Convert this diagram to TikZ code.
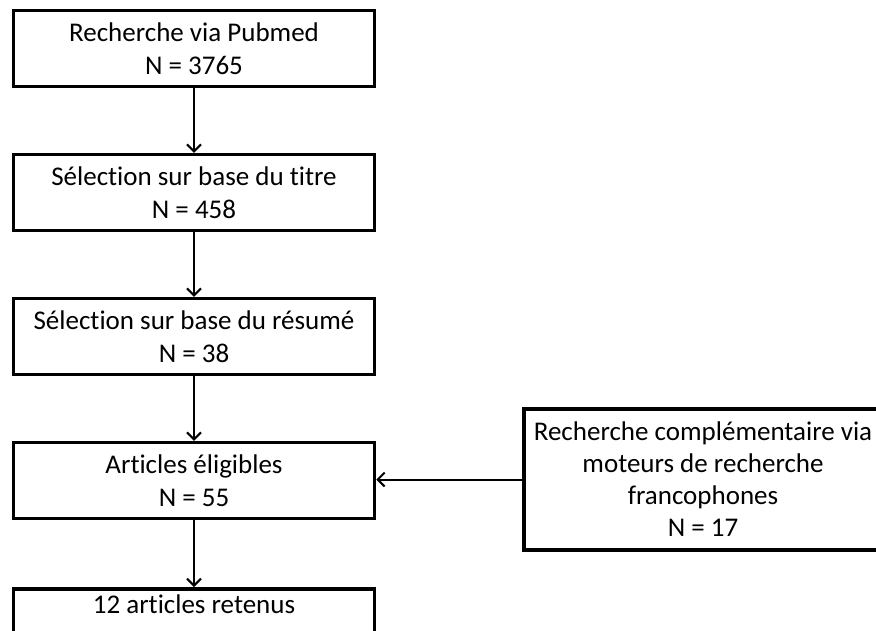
\documentclass[tikz,border=0pt]{standalone}
\usepackage{fontspec}
\setmainfont[Ligatures=NoCommon]{Carlito}
\usetikzlibrary{arrows.meta}

\begin{document}
\begin{tikzpicture}[x=1pt, y=-1pt,
	box/.style={draw, line width=3.5pt, align=center, inner sep=0pt,
		minimum width=361pt, minimum height=76pt, font=\fontsize{27}{33}\selectfont},
	flow/.style={line width=2pt, -{Straight Barb[length=7pt, width=14pt, line width=2pt]}}]

	\def\Xleft{194}
	\def\Xright{703}
	\def\dy{144}

	\useasboundingbox (0,0) rectangle (876,630);
	\clip (0,0) rectangle (876,630);

	% Main column
	\node[box] (pubmed) at (\Xleft, 48.5) {Recherche via Pubmed\\N = 3765};
	\node[box] (titre) at (\Xleft, 48.5 + \dy) {Sélection sur base du titre\\N = 458};
	\node[box] (resume) at (\Xleft, 48.5 + 2*\dy) {Sélection sur base du résumé\\N = 38};
	\node[box] (eligible) at (\Xleft, 48.5 + 3*\dy) {Articles éligibles\\N = 55};
	% last box runs past the bottom edge
	\node[box, anchor=north, minimum height=0pt, inner ysep=6pt, text depth=40pt]
		(retenus) at (\Xleft, 587) {12 articles retenus};

	% Extra search
	\node[box, minimum width=358pt, minimum height=141pt, font=\fontsize{27}{32}\selectfont]
		(extra) at (\Xright, 479.5)
		{Recherche complémentaire via\\moteurs de recherche\\francophones\\N = 17};

	% Arrows
	\draw[flow] (pubmed) -- (titre);
	\draw[flow] (titre) -- (resume);
	\draw[flow] (resume) -- (eligible);
	\draw[flow] (eligible) -- (retenus);
	\draw[flow] (extra.west) -- (extra.west -| eligible.east);

\end{tikzpicture}
\end{document}
